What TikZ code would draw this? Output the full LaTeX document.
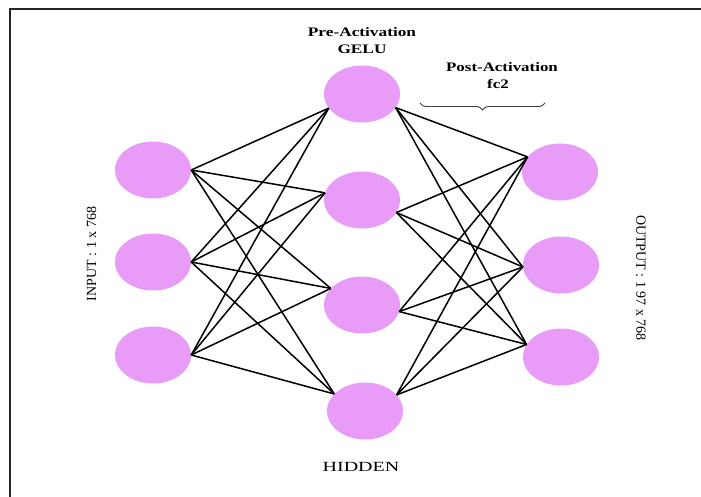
\documentclass[tikz,border=0pt]{standalone}
\usepackage{fontspec}
\setmainfont{Liberation Serif}
\usepackage{graphicx}
\usetikzlibrary{shapes.geometric,decorations.pathreplacing}
\definecolor{neuron}{HTML}{E89CF8}
\tikzset{
  neuron/.style={ellipse,fill=neuron,draw=none,minimum width=76pt,minimum height=57pt,inner sep=0pt},
  link/.style={line width=1.5pt,black},
  title/.style={font=\fontsize{13}{13}\selectfont\bfseries,inner sep=0pt},
  side/.style={font=\fontsize{14}{14}\selectfont,inner sep=0pt}
}
\begin{document}
\begin{tikzpicture}[x=1pt,y=-1pt]
\useasboundingbox (0,0) rectangle (701,496);
\fill[white] (0,0) rectangle (701,496);
\draw[line width=2pt,black!85] (10,498) -- (10,9) -- (703,9);

\node[neuron] (i1) at (153,170) {};
\node[neuron] (i2) at (153,262) {};
\node[neuron] (i3) at (153,355) {};
\node[neuron] (h1) at (362,94) {};
\node[neuron] (h2) at (362,200) {};
\node[neuron] (h3) at (362,305) {};
\node[neuron] (h4) at (365,411) {};
\node[neuron] (o1) at (560,172) {};
\node[neuron] (o2) at (561,265) {};
\node[neuron] (o3) at (561,357) {};

\coordinate (h1in) at (h1.203);
\coordinate (h2in) at (h2.169);
\coordinate (h3in) at (h3.152);
\coordinate (h4in) at (h4.151);
\coordinate (h1out) at (h1.338);
\coordinate (h2out) at (h2.340);
\coordinate (h3out) at (h3.350);
\coordinate (h4out) at (h4.27);
\coordinate (o1in) at (o1.155);
\coordinate (o2in) at (o2.183);
\coordinate (o3in) at (o3.160);

\foreach \i in {i1,i2,i3}{
  \foreach \h in {h1,h2,h3,h4}{
    \draw[link] (\i.east) -- (\h in);
  }
}
\foreach \h in {h1,h2,h3,h4}{
  \foreach \o in {o1,o2,o3}{
    \draw[link] (\h out) -- (\o in);
  }
}

\node[title] (pre1) at (362,32) {\scalebox{1.33}[1]{Pre-Activation}};
\node[title] (pre2) at (362,49) {\scalebox{1.33}[1]{GELU}};
\node[title] (post1) at (502,67) {\scalebox{1.3}[1]{Post-Activation}};
\node[title] (post2) at (498,84) {\scalebox{1.3}[1]{fc2}};
\coordinate (bl) at (420,103);
\coordinate (br) at (545,103);
\draw[black!75,line width=0.9pt,decorate,decoration={brace,amplitude=7pt,mirror}] (bl) -- (br);

\node[side,rotate=90] (inlab) at (91.5,254) {INPUT : 1 x 768};
\node[side,rotate=-90] (outlab) at (641,278) {OUTPUT : 1 97 x 768};
\node[side] (hid) at (361,467) {\scalebox{1.43}[1]{HIDDEN}};
\end{tikzpicture}
\end{document}
